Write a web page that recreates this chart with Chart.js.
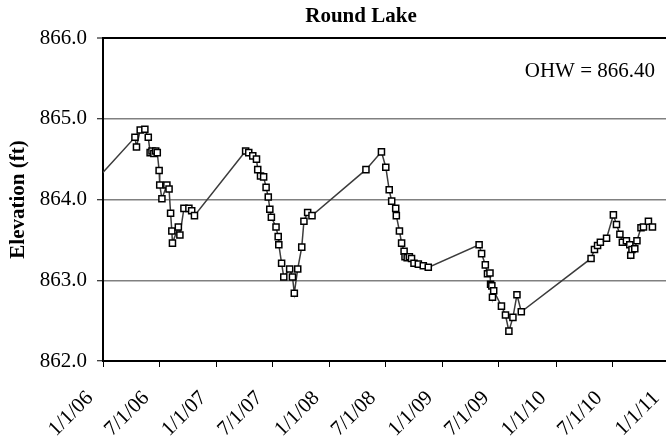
<!DOCTYPE html>
<html>
<head>
<meta charset="utf-8">
<script src="https://cdn.jsdelivr.net/npm/chart.js@4/dist/chart.umd.min.js"></script>
<style>
  html, body { margin: 0; padding: 0; background: #fff; overflow: hidden; }
  #wrap { width: 666px; height: 439px; overflow: hidden; position: relative; }
  #chart { position: absolute; left: 0; top: 0; }
</style>
</head>
<body>
<div id="wrap"><canvas id="chart" width="675" height="439"></canvas></div>
<script>
// ===== data =====

const chartTitle = 'Round Lake';
const ohwNote = 'OHW = 866.40';

const tickDates = [
    '2006-01-01','2006-07-01','2007-01-01','2007-07-01','2008-01-01','2008-07-01',
    '2009-01-01','2009-07-01','2010-01-01','2010-07-01','2011-01-01'
];
const tickLabels = [
    '1/1/06','7/1/06','1/1/07','7/1/07','1/1/08','7/1/08',
    '1/1/09','7/1/09','1/1/10','7/1/10','1/1/11'
];

const obsDates = [
    '2005-11-01',
    '2006-04-14','2006-04-19','2006-05-01','2006-05-16','2006-05-27','2006-06-02','2006-06-08',
    '2006-06-14','2006-06-20','2006-06-25','2006-07-01','2006-07-03','2006-07-10','2006-07-26',
    '2006-08-02','2006-08-07','2006-08-11','2006-08-13','2006-09-01','2006-09-06','2006-09-19',
    '2006-10-05','2006-10-14','2006-10-23',
    '2007-04-06','2007-04-16','2007-04-29','2007-05-11','2007-05-15','2007-05-24','2007-06-03',
    '2007-06-11','2007-06-18','2007-06-23','2007-06-28','2007-07-13','2007-07-20','2007-07-22',
    '2007-07-31','2007-08-07','2007-08-26','2007-09-04','2007-09-10','2007-09-21','2007-10-04',
    '2007-10-11','2007-10-23','2007-11-06',
    '2008-04-28','2008-06-17','2008-07-01','2008-07-12','2008-07-20','2008-08-02','2008-08-04',
    '2008-08-14','2008-08-21','2008-08-29','2008-09-01','2008-09-08','2008-09-15','2008-09-22',
    '2008-09-30','2008-10-14','2008-10-30','2008-11-15',
    '2009-04-28','2009-05-06','2009-05-18','2009-05-25','2009-06-02','2009-06-04','2009-06-08',
    '2009-06-10','2009-06-14','2009-07-09','2009-07-22','2009-08-02','2009-08-15','2009-08-28',
    '2009-09-11',
    '2010-04-24','2010-05-05','2010-05-15','2010-05-24','2010-06-13','2010-07-05','2010-07-15',
    '2010-07-26','2010-08-03','2010-08-16','2010-08-27','2010-08-30','2010-09-03','2010-09-12',
    '2010-09-19','2010-10-02','2010-10-10','2010-10-26','2010-11-08'
];

const elevations = [
    864.08,
    864.77, 864.65, 864.86, 864.87, 864.77, 864.58, 864.60,
    864.57, 864.60, 864.58, 864.36, 864.18, 864.01, 864.18,
    864.13, 863.83, 863.61, 863.46, 863.66, 863.56, 863.89,
    863.89, 863.86, 863.80,
    864.60, 864.58, 864.54, 864.50, 864.37, 864.29, 864.28,
    864.15, 864.03, 863.88, 863.78, 863.66, 863.54, 863.44,
    863.21, 863.04, 863.14, 863.04, 862.84, 863.14, 863.41,
    863.73, 863.84, 863.80,
    864.37, 864.59, 864.40, 864.12, 863.98, 863.89, 863.80,
    863.61, 863.46, 863.36, 863.29, 863.28, 863.29, 863.27,
    863.21, 863.20, 863.18, 863.16,
    863.44, 863.33, 863.19, 863.08, 863.09, 862.95, 862.93,
    862.79, 862.87, 862.68, 862.57, 862.37, 862.54, 862.82,
    862.61,
    863.27, 863.38, 863.43, 863.47, 863.52, 863.81, 863.69,
    863.57, 863.47, 863.49, 863.44, 863.31, 863.38, 863.39,
    863.49, 863.65, 863.66, 863.73, 863.66
];

// ===== helpers =====

const DAY = 86400000;
const origin = Date.parse(tickDates[0]);
const toDay = d => (Date.parse(d) - origin) / DAY;

const tickDays = tickDates.map(toDay);
const points = obsDates.map((d, i) => ({ x: toDay(d), y: elevations[i] }));

const serif = '"Liberation Serif", "Times New Roman", serif';

// title + OHW note drawn as text on the canvas
const annotations = {
    id: 'annotations',
    afterDraw(chart) {
        const ctx = chart.ctx;
        ctx.save();
        ctx.fillStyle = '#000';
        ctx.textBaseline = 'middle';

        ctx.font = 'bold 21px ' + serif;
        ctx.textAlign = 'center';
        ctx.fillText(chartTitle, 361, 17);

        ctx.font = '21px ' + serif;
        ctx.textAlign = 'right';
        ctx.fillText(ohwNote, 655, 71);
        ctx.restore();
    }
};

// ===== chart =====

new Chart(document.getElementById('chart'), {
    type: 'line',
    data: {
        datasets: [{
            label: chartTitle,
            data: points,
            borderColor: '#3c3c3c',
            borderWidth: 1.5,
            tension: 0,
            pointStyle: 'rect',
            pointRadius: 4.3,
            pointBorderWidth: 1.5,
            pointBorderColor: '#000',
            pointBackgroundColor: '#fff'
        }]
    },
    options: {
        responsive: false,
        animation: false,
        layout: { padding: { top: 38, right: 1, left: 0, bottom: 0 } },
        plugins: {
            legend: { display: false },
            tooltip: { enabled: false }
        },
        scales: {
            x: {
                type: 'linear',
                min: tickDays[0],
                max: tickDays[tickDays.length - 1],
                afterBuildTicks: s => { s.ticks = tickDays.map(v => ({ value: v })); },
                afterFit: s => {
                    s.height = 78;
                    s.paddingLeft = 0;
                    s.paddingRight = 0;
                },
                border: { color: '#000', width: 2 },
                grid: { drawOnChartArea: false, tickLength: 6, tickColor: '#000', tickWidth: 1 },
                ticks: {
                    autoSkip: false,
                    minRotation: 45,
                    maxRotation: 45,
                    padding: 19,
                    labelOffset: -13,
                    color: '#000',
                    font: { family: serif, size: 21 },
                    callback: (v, i) => tickLabels[i]
                }
            },
            y: {
                min: 862,
                max: 866,
                afterFit: s => { s.width = 103; },
                border: { color: '#000', width: 2 },
                grid: {
                    color: c => c.tick && c.tick.value === 866 ? '#000' : '#808080',
                    lineWidth: c => c.tick && c.tick.value === 866 ? 2 : 1.5,
                    tickLength: 6,
                    tickColor: '#000',
                    tickWidth: 1
                },
                ticks: {
                    stepSize: 1,
                    padding: 10,
                    color: '#000',
                    font: { family: serif, size: 21 },
                    callback: v => v.toFixed(1)
                },
                title: {
                    display: true,
                    text: 'Elevation (ft)',
                    color: '#000',
                    font: { family: serif, size: 21, weight: 'bold' },
                    padding: { top: 6, bottom: 0 }
                }
            }
        }
    },
    plugins: [annotations]
});
</script>
</body>
</html>
